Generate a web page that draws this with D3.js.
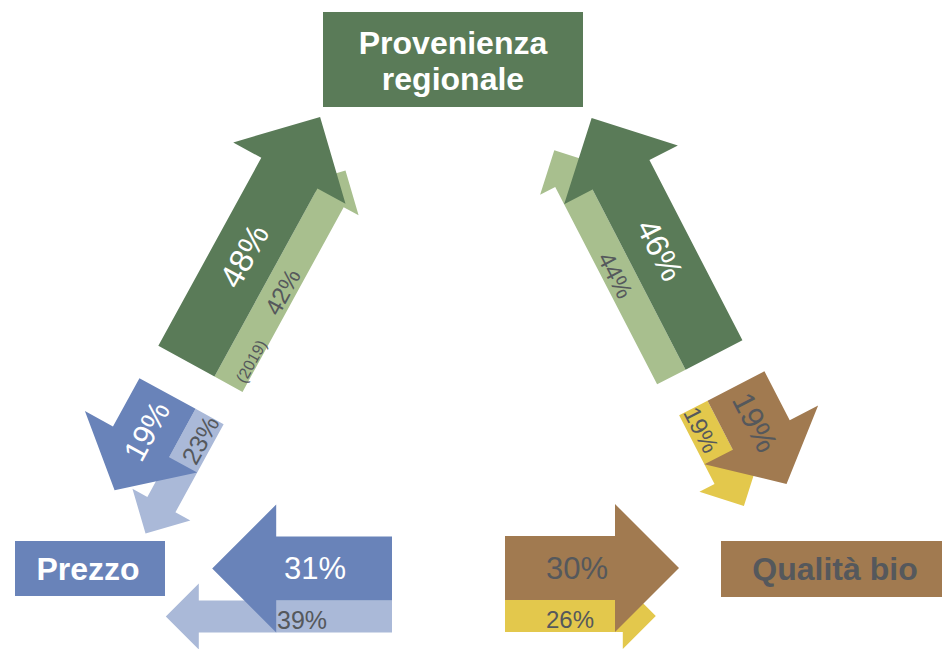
<!DOCTYPE html>
<html><head><meta charset="utf-8">
<script src="https://cdn.jsdelivr.net/npm/d3@7"></script>
<style>html,body{margin:0;padding:0;background:#fff;} svg{display:block;}</style>
</head><body><svg id="chart" width="942" height="649"></svg>
<script>
// ---------- data ----------
const nodeNames = ["Provenienza regionale", "Prezzo", "Qualità bio"];
const flowSource = ["Prezzo", "Qualità bio", "Provenienza regionale", "Provenienza regionale", "Qualità bio", "Prezzo"];
const flowTarget = ["Provenienza regionale", "Provenienza regionale", "Prezzo", "Qualità bio", "Prezzo", "Qualità bio"];
const share2020 = [48, 46, 19, 19, 31, 30];
const share2019 = [42, 44, 23, 19, 39, 26];
const priorYearLabel = "(2019)";

// ---------- layout & style ----------
const palette = {
  "Provenienza regionale": {dark: "#5a7b58", light: "#a8bf8e", darkText: "#ffffff", lightText: "#55585c"},
  "Prezzo":                {dark: "#6983b9", light: "#aab9d8", darkText: "#ffffff", lightText: "#55585c"},
  "Qualità bio":           {dark: "#a17a50", light: "#e3c84c", darkText: "#55585c", lightText: "#55585c"}
};
const nodeLayout = {
  "Provenienza regionale": {x0: 323, y0: 12, x1: 583, y1: 107, cx: 453, baselines: [54, 90], wrap: true, text: "#ffffff"},
  "Prezzo":                {x0: 15, y0: 541, x1: 165, y1: 596, cx: 88, baselines: [580], wrap: false, text: "#ffffff"},
  "Qualità bio":           {x0: 721, y0: 541, x1: 945, y1: 597, cx: 835, baselines: [580], wrap: false, text: "#55585c"}
};
const arrowLayout = [
  {ox: 186.4, oy: 361.2, angle: -61.3, side: 1,  darkAt: 120, lightAt: 107, darkFont: 33, lightFont: 24, note: true},
  {ox: 714,   oy: 355,   angle: -117.3, side: -1, darkAt: 118, lightAt: 116, darkFont: 32, lightFont: 24},
  {ox: 167.5, oy: 393.5, angle: 118.7, side: -1, darkAt: 43,  lightAt: 25,  darkFont: 31, lightFont: 25},
  {ox: 736,   oy: 386,   angle: 62.7,  side: 1,  darkAt: 41,  lightAt: 23,  darkFont: 31, lightFont: 24},
  {ox: 392,   oy: 568.5, angle: 180,   side: -1, darkAt: 77,  lightAt: 90,  darkFont: 31, lightFont: 25},
  {ox: 505,   oy: 568,   angle: 0,     side: 1,  darkAt: 72,  lightAt: 65,  darkFont: 31, lightFont: 24}
];
const FONT = "'Liberation Sans', Arial, Helvetica, sans-serif";

const svg = d3.select("#chart");
const len = d3.scaleLinear().domain([0, 100]).range([0, 580]);
const fmt = v => v + "%";

function geom(L) {
  const rad = L.angle * Math.PI / 180;
  return {d: [Math.cos(rad), Math.sin(rad)], n: [-Math.sin(rad), Math.cos(rad)]};
}
function arrowPath(o, g, L, hw, headW, headL) {
  const P = (a, b) => [o[0] + g.d[0] * a + g.n[0] * b, o[1] + g.d[1] * a + g.n[1] * b];
  const pts = [P(0, -hw), P(L - headL, -hw), P(L - headL, -headW), P(L, 0), P(L - headL, headW), P(L - headL, hw), P(0, hw)];
  return d3.line()(pts) + "Z";
}
function textRot(a) { let r = a; if (r > 90) r -= 180; if (r <= -90) r += 180; return r; }

const flows = share2020.map((v, i) => ({
  i, v, v0: share2019[i], source: flowSource[i], target: flowTarget[i], lay: arrowLayout[i]
}));

const gLight = svg.append("g");
const gDark = svg.append("g");
const gText = svg.append("g");

flows.forEach(f => {
  const lay = f.lay, g = geom(lay), col = palette[f.target];
  const o = [lay.ox, lay.oy];
  const off = lay.side * 48;
  const oL = [o[0] + g.n[0] * off, o[1] + g.n[1] * off];
  const Ll = len(f.v0);
  gLight.append("path").attr("d", arrowPath(oL, g, Ll, 16, 33, Math.min(33, Ll / 2))).attr("fill", col.light);
  const Ld = len(f.v);
  gDark.append("path").attr("d", arrowPath(o, g, Ld, 32, 64, Math.min(64, Ld / 2))).attr("fill", col.dark);

  const rot = textRot(lay.angle);
  const dp = [o[0] + g.d[0] * lay.darkAt, o[1] + g.d[1] * lay.darkAt];
  gText.append("text")
    .attr("transform", `translate(${dp[0]},${dp[1]}) rotate(${rot})`)
    .attr("text-anchor", "middle").attr("dominant-baseline", "central")
    .attr("font-family", FONT).attr("font-size", lay.darkFont)
    .attr("fill", col.darkText).text(fmt(f.v));
  const lo = lay.side * 51;
  const lp = [o[0] + g.d[0] * lay.lightAt + g.n[0] * lo, o[1] + g.d[1] * lay.lightAt + g.n[1] * lo];
  gText.append("text")
    .attr("transform", `translate(${lp[0]},${lp[1]}) rotate(${rot})`)
    .attr("text-anchor", "middle").attr("dominant-baseline", "central")
    .attr("font-family", FONT).attr("font-size", lay.lightFont)
    .attr("fill", col.lightText).text(fmt(f.v0));
  if (lay.note) {
    const no = lay.side * 57;
    const np = [o[0] + g.d[0] * 31 + g.n[0] * no, o[1] + g.d[1] * 31 + g.n[1] * no];
    gText.append("text")
      .attr("transform", `translate(${np[0]},${np[1]}) rotate(${rot})`)
      .attr("text-anchor", "middle").attr("dominant-baseline", "central")
      .attr("font-family", FONT).attr("font-size", 16)
      .attr("fill", col.lightText).text(priorYearLabel);
  }
});

nodeNames.forEach(name => {
  const nl = nodeLayout[name], col = palette[name];
  svg.append("rect").attr("x", nl.x0).attr("y", nl.y0)
    .attr("width", nl.x1 - nl.x0).attr("height", nl.y1 - nl.y0).attr("fill", col.dark);
  const lines = nl.wrap ? name.split(" ") : [name];
  lines.forEach((t, k) => {
    svg.append("text").attr("x", nl.cx).attr("y", nl.baselines[k])
      .attr("text-anchor", "middle").attr("font-family", FONT)
      .attr("font-weight", "bold").attr("font-size", 32)
      .attr("fill", nl.text).text(t);
  });
});
</script></body></html>
